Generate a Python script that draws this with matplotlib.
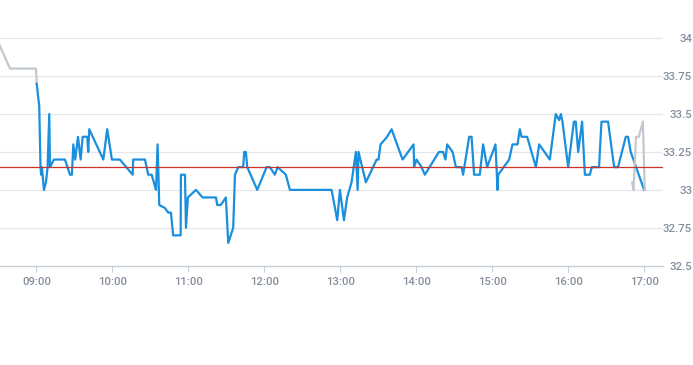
import matplotlib
matplotlib.use("Agg")
import matplotlib.pyplot as plt

# ---- data (minutes after 09:00, price) ----
main_minutes = [0.2, 2.2, 3.2, 3.7, 4.3, 5.9, 7.5, 8.8, 10.1, 10.7, 13.8, 22.5, 26.5, 28.0,
                29.1, 30.6, 32.8, 34.9, 36.5, 40.1, 40.9, 41.7, 52.8, 55.9, 59.6, 65.9,
                76.0, 76.4, 85.7, 88.3, 91.0, 94.4, 95.7, 97.0, 101.5, 104.1, 106.2, 108.0,
                113.9, 114.1, 117.3, 118.1, 119.6, 126.0, 131.2, 141.8, 142.8, 145.5, 149.6,
                151.5, 155.4, 156.8, 159.4, 163.3, 164.1, 165.4, 166.5, 174.4, 181.8, 184.4,
                188.3, 190.5, 197.0, 200.2, 233.1, 237.6, 239.7, 242.9, 245.4, 248.9, 252.3,
                253.7, 254.4, 260.2, 268.7, 270.2, 271.8, 277.0, 280.5, 289.2, 297.9, 298.3,
                300.2, 304.2, 306.8, 317.9, 321.2, 323.1, 324.4, 328.7, 331.3, 335.8, 337.0,
                341.8, 343.7, 345.7, 350.2, 352.8, 356.0, 362.6, 364.2, 364.7, 373.4, 376.0,
                380.0, 381.8, 383.2, 387.6, 394.5, 397.1, 405.5, 410.2, 412.9, 414.2, 415.5,
                420.0, 424.5, 426.0, 427.9, 431.0, 433.2, 437.1, 438.7, 444.4, 446.3, 451.5,
                456.3, 459.4, 465.5, 467.3, 469.4, 480.0]
main_prices = [33.70, 33.55, 33.15, 33.10, 33.15, 33.00, 33.05, 33.15, 33.50, 33.15, 33.20, 33.20, 33.10, 33.10,
               33.30, 33.20, 33.35, 33.20, 33.35, 33.35, 33.25, 33.40, 33.20, 33.40, 33.20, 33.20,
               33.10, 33.20, 33.20, 33.10, 33.10, 33.00, 33.30, 32.90, 32.88, 32.85, 32.85, 32.70,
               32.70, 33.10, 33.10, 32.75, 32.95, 33.00, 32.95, 32.95, 32.90, 32.90, 32.95,
               32.65, 32.75, 33.10, 33.15, 33.15, 33.25, 33.25, 33.15, 33.00, 33.15, 33.15,
               33.10, 33.15, 33.10, 33.00, 33.00, 32.80, 33.00, 32.80, 32.95, 33.05, 33.25,
               33.00, 33.25, 33.05, 33.20, 33.20, 33.30, 33.35, 33.40, 33.20, 33.30, 33.15,
               33.20, 33.15, 33.10, 33.25, 33.25, 33.20, 33.30, 33.25, 33.15, 33.15, 33.10,
               33.35, 33.35, 33.10, 33.10, 33.30, 33.15, 33.30, 33.00, 33.10, 33.20, 33.30,
               33.30, 33.40, 33.35, 33.35, 33.15, 33.30, 33.20, 33.50, 33.46, 33.50, 33.45,
               33.15, 33.45, 33.45, 33.25, 33.45, 33.10, 33.10, 33.15, 33.15, 33.45, 33.45,
               33.15, 33.15, 33.35, 33.35, 33.25, 33.00]

pre_minutes = [-30.0, -20.9, -0.4, 0.2]
pre_prices = [33.97, 33.80, 33.80, 33.70]

post_minutes = [470.5, 471.6, 473.6, 475.8, 479.0, 480.5]
post_prices = [33.05, 33.00, 33.35, 33.35, 33.45, 33.00]

ref_price = 33.15

x_ticks = [0, 60, 120, 180, 240, 300, 360, 420, 480]
x_labels = ["09:00", "10:00", "11:00", "12:00", "13:00", "14:00", "15:00", "16:00", "17:00"]
y_ticks = [32.5, 32.75, 33.0, 33.25, 33.5, 33.75, 34.0]
y_labels = ["32.5", "32.75", "33", "33.25", "33.5", "33.75", "34"]

# ---- figure ----
plt.rcParams['font.family'] = ['Roboto', 'DejaVu Sans']
fig = plt.figure(figsize=(6.93, 3.65), dpi=100)
ax = fig.add_axes([0.0, 0.2721, 0.9567, 0.6646])

grid_c = '#e3e6ea'
for yv in y_ticks[1:]:
    ax.axhline(yv, color=grid_c, lw=0.9, zorder=0)

ax.plot(pre_minutes, pre_prices, color='#c3c9cf', lw=1.6, zorder=2, solid_joinstyle='round')
ax.plot(main_minutes, main_prices, color='#1a8fdd', lw=1.6, zorder=3, solid_joinstyle='round')
ax.plot(post_minutes, post_prices, color='#c3c9cf', lw=1.6, zorder=4, solid_joinstyle='round')
ax.axhline(ref_price, color='#c8342c', lw=0.9, zorder=5)

ax.set_xlim(-28.8, 494.9)
ax.set_ylim(32.5, 34.1)

for s in ['top', 'left', 'right']:
    ax.spines[s].set_visible(False)
ax.spines['bottom'].set_color('#c9cfd6')
ax.spines['bottom'].set_linewidth(1.0)

lab_c = '#86909c'
ax.set_xticks(x_ticks)
ax.set_xticklabels(x_labels, fontweight='medium')
ax.tick_params(axis='x', length=4, width=0.8, color='#c9cfd6', pad=4,
               labelsize=8.2, labelcolor=lab_c)

ax.yaxis.tick_right()
ax.set_yticks(y_ticks)
ax.set_yticklabels(y_labels, fontweight='medium')
ax.tick_params(axis='y', length=0, pad=20.9, labelsize=8.2, labelcolor=lab_c)
for lab in ax.get_yticklabels():
    lab.set_horizontalalignment('right')

fig.savefig('out.png', dpi=100)
